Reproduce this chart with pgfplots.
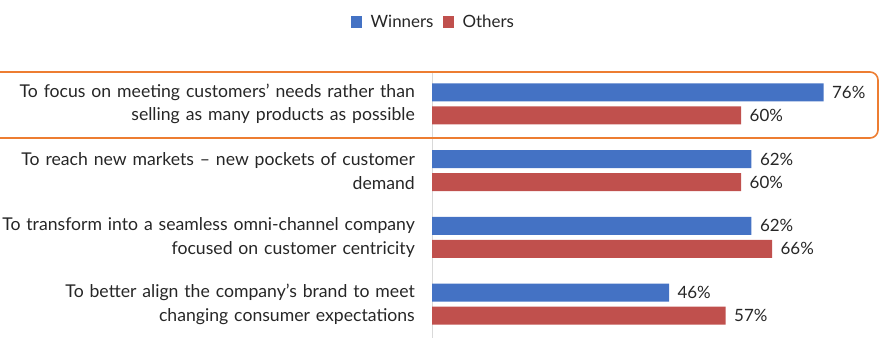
\documentclass[border=0pt]{standalone}
\usepackage{pgfplots}
\pgfplotsset{compat=1.18}
\usepackage{fontspec}
\setmainfont{Lato}
\definecolor{win}{HTML}{4472C4}
\definecolor{oth}{HTML}{C0504D}
\definecolor{txt}{HTML}{262626}
\definecolor{orng}{HTML}{ED7D31}
\begin{document}
\begin{tikzpicture}[x=1bp,y=1bp]
\useasboundingbox (0,0) rectangle (882,-361);
\begin{axis}[
  at={(432bp,-70.5bp)}, anchor=north west,
  scale only axis, width=438bp, height=267bp,
  xbar, xmin=0, xmax=85, ymin=-0.5, ymax=3.5,
  bar width=18bp,
  axis x line=none,
  axis y line*=left,
  y axis line style={draw=black!15, line width=0.8bp},
  ytick={0,1,2,3},
  yticklabels={{To better align the company's brand to meet\\changing consumer expectations},
               {To transform into a seamless omni-channel company\\focused on customer centricity},
               {To reach new markets -- new pockets of customer\\demand},
               {To focus on meeting customers' needs rather than\\selling as many products as possible}},
  major tick length=0pt,
  yticklabel style={anchor=east, align=right, text width=440bp, inner sep=0pt, xshift=-17bp,
     font=\fontsize{17.7}{24}\selectfont, text=txt},
  /pgf/number format/assume math mode=true,
  nodes near coords={\pgfmathprintnumber{\pgfplotspointmeta}\%},
  every node near coord/.append style={font=\fontsize{17}{18}\selectfont, text=txt, anchor=west, xshift=5bp},
  legend style={at={(0.003,1.18)}, anchor=center, legend columns=2, draw=none,
     font=\fontsize{17}{18}\selectfont, text=txt, column sep=7bp},
  legend image code/.code={\fill[#1] (0bp,-6bp) rectangle (11bp,6bp);},
]
\addplot[fill=win, draw=none, bar shift=11.5bp] coordinates {(46,0) (62,1) (62,2) (76,3)};
\addlegendentry{Winners}
\addplot[fill=oth, draw=none, bar shift=-11.5bp] coordinates {(57,0) (66,1) (60,2) (60,3)};
\addlegendentry{Others}
\end{axis}
\draw[orng, line width=1.6bp, rounded corners=8bp] (-8,-72) rectangle (878,-138);
\end{tikzpicture}
\end{document}
